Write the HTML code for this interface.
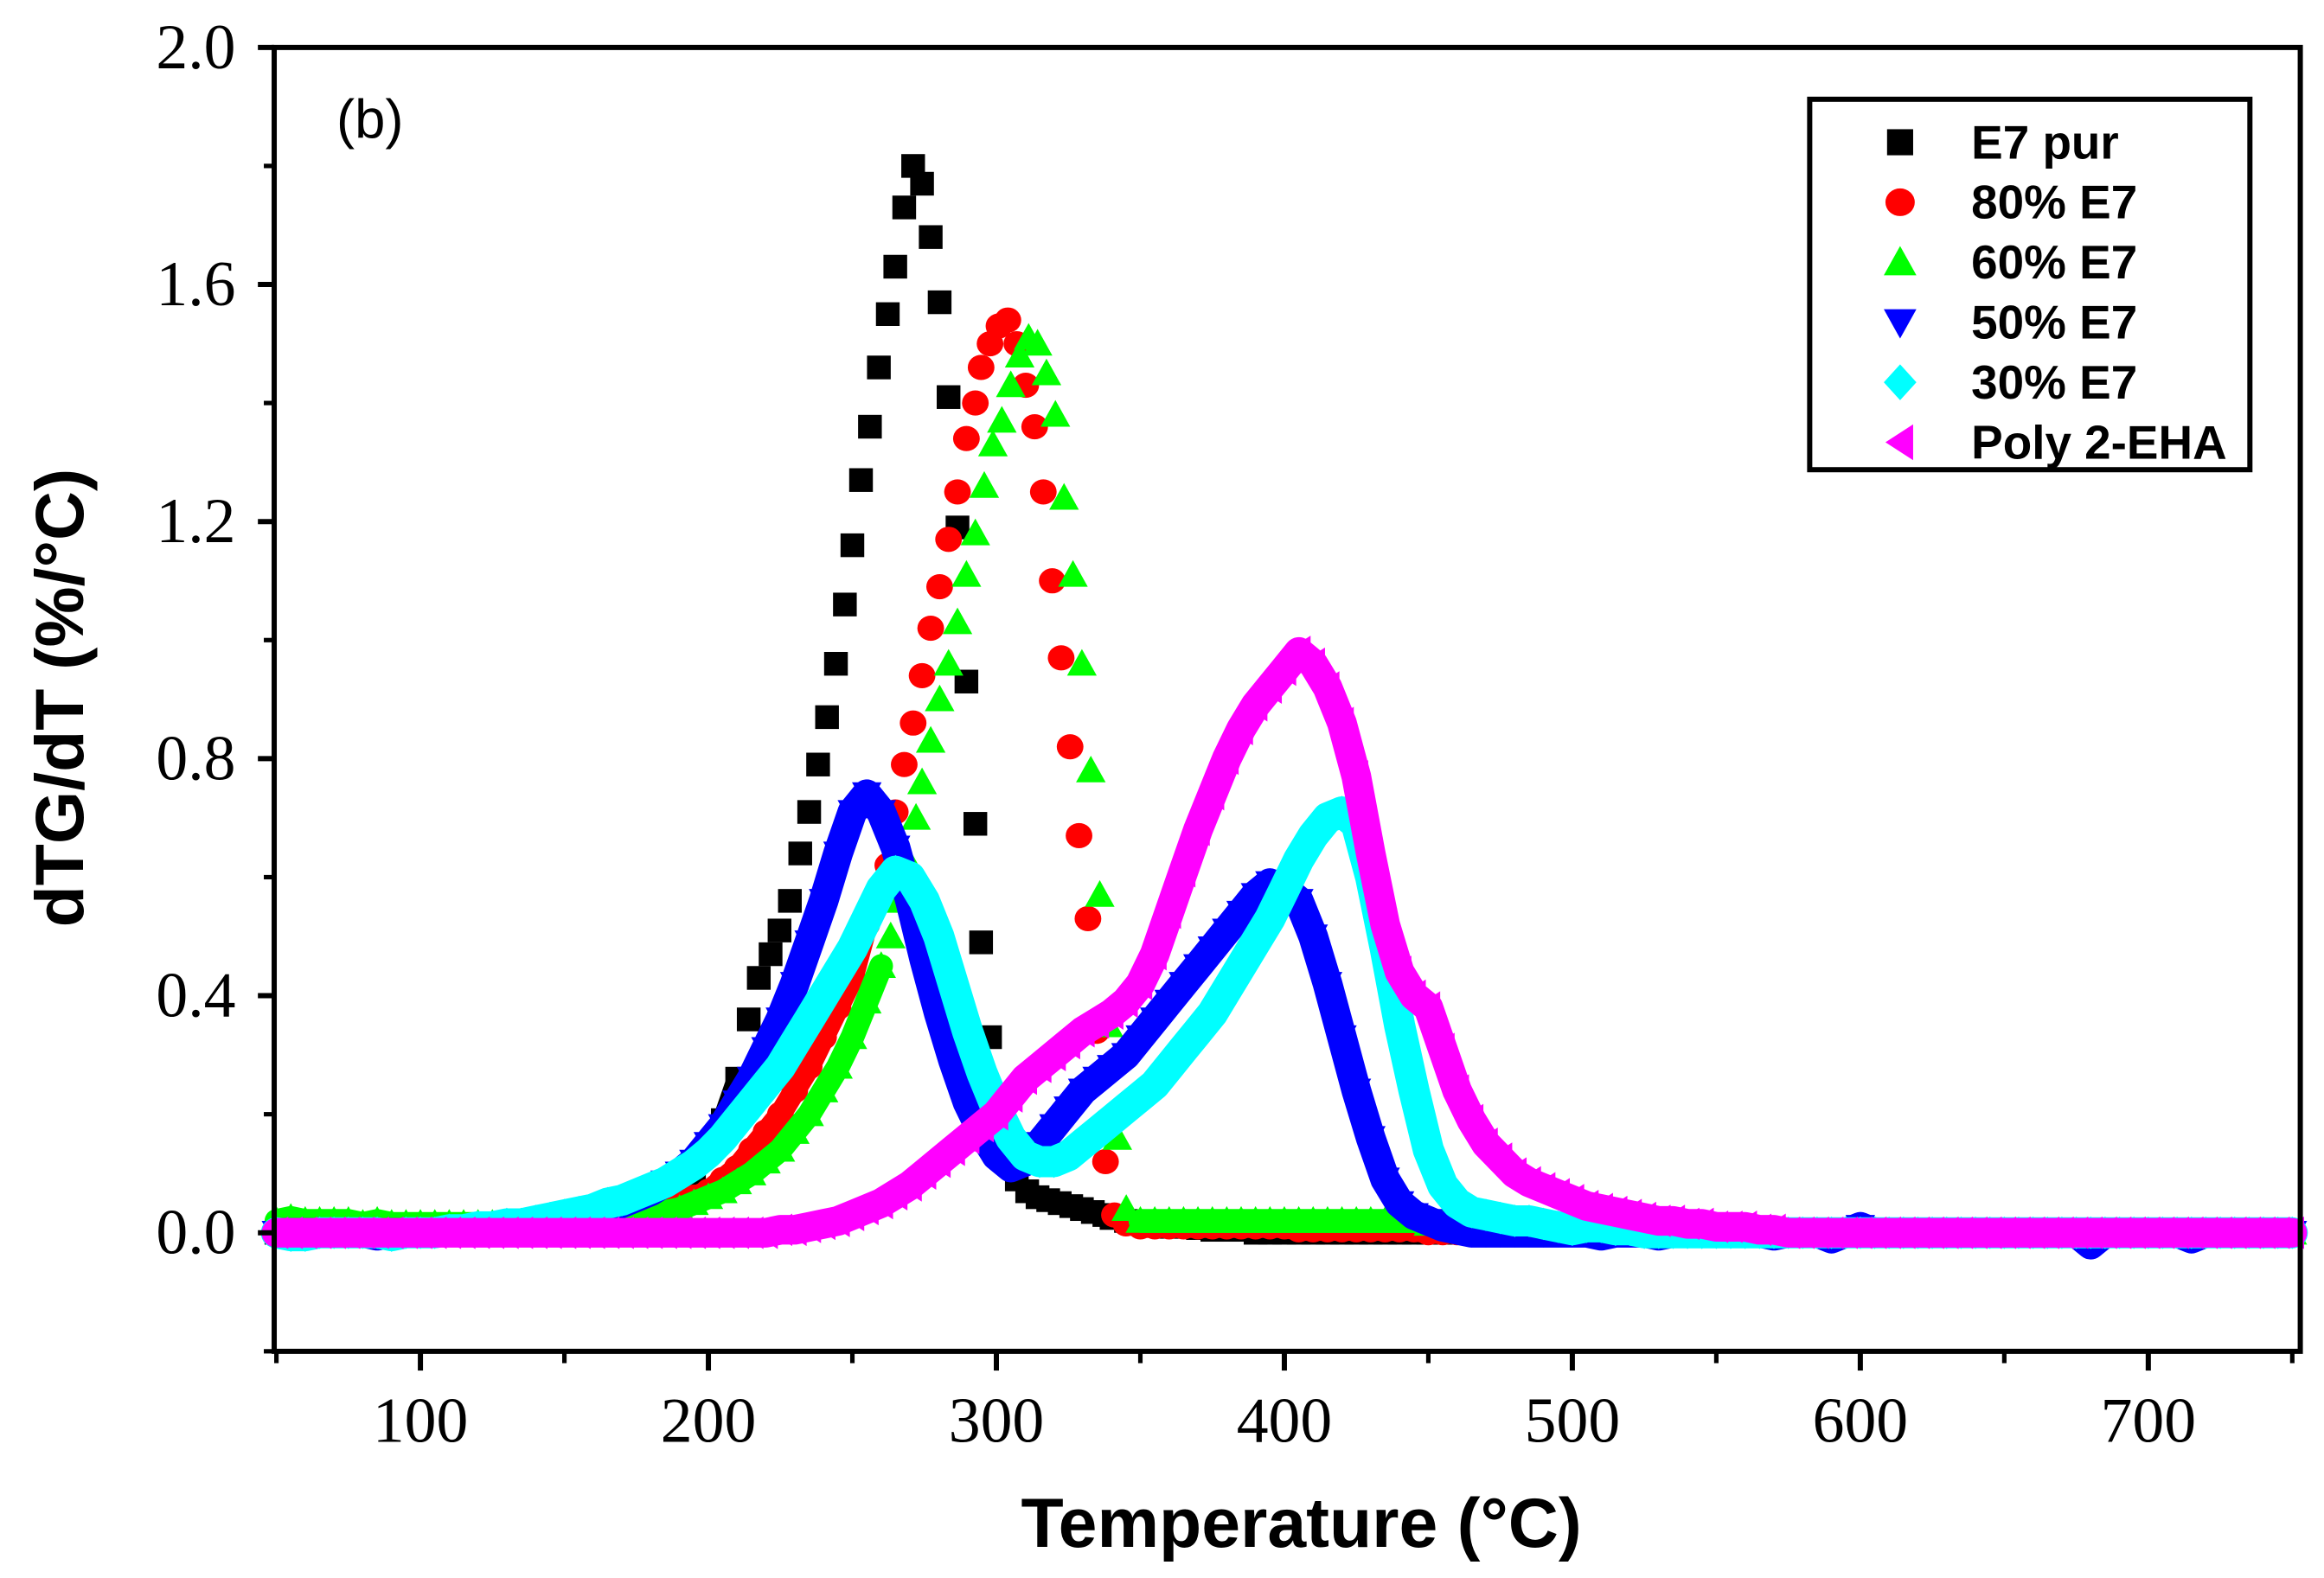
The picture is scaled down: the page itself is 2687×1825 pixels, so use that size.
<!DOCTYPE html>
<html><head><meta charset="utf-8"><title>dTG/dT chart</title>
<style>html,body{margin:0;padding:0;background:#fff;}svg{display:block;}</style></head>
<body>
<svg id="chart" width="2687" height="1825" viewBox="0 0 1568 1065" preserveAspectRatio="none" xmlns="http://www.w3.org/2000/svg">
<rect x="0" y="0" width="1568" height="1065" fill="#fff"/>
<g id="marks"></g>
<g id="axes"></g>
<text x="227" y="93" font-family="Liberation Sans, sans-serif" font-size="37">(b)</text>
<text transform="translate(56,471) rotate(-90)" text-anchor="middle" font-family="Liberation Sans, sans-serif" font-weight="bold" font-size="46">dTG/dT (%/°C)</text>
<text x="878" y="1044" text-anchor="middle" font-family="Liberation Sans, sans-serif" font-weight="bold" font-size="47">Temperature (°C)</text>
<g id="legend">
<rect x="1221" y="67" width="297" height="250" fill="#fff" stroke="#000" stroke-width="3.5"/>
</g>
</svg>
<script>
const temps=[50,55,60,65,70,75,80,85,90,95,100,105,110,115,120,125,130,135,140,145,150,155,160,165,170,175,180,185,190,195,200,205,210,215,220,225,230,235,240,245,250,255,260,265,270,275,280,285,290,295,300,305,310,315,320,325,330,335,340,345,350,355,360,365,370,375,380,385,390,395,400,405,410,415,420,425,430,435,440,445,450,455,460,465,470,475,480,485,490,495,500,505,510,515,520,525,530,535,540,545,550,555,560,565,570,575,580,585,590,595,600,605,610,615,620,625,630,635,640,645,650,655,660,665,670,675,680,685,690,695,700,705,710,715,720,725,730,735,740,745,750];
const _=null;
const e7Grid=[0,0,0,0,0,0,0,0,0,0, 0,0,0,0,0,0,0.005,0.005,0.005,0.01, 0.01,0.015,0.02,0.025,0.03,0.04,0.05,0.06,0.08,0.1, 0.14,0.19,0.26,_,_,_,_,_,_,_, _,_,_,_,_,_,_,_,_,_, _,_,_,_,_,_,_,_,0.025,0.02, 0.015,0.012,0.01,0.01,0.008,0.005,0.005,0.005,0,0, 0,0,0,0,0,0,0,0,0,0, 0,0,0,0,0,0,0,0,0,0, 0,0,0,0,0,0,0,0,0,0, 0,0,0,0,0,0,0,0,0,0, 0,0,0,0,0,0,0,0,0,0, 0,0,0,0,0,0,0,0,0,0, 0,0,0,0,0,0,0,0,0,0, 0];
const e7PeakT=[214,217.5,221.6,224.7,228.3,231.9,235,238.1,241.2,244.3,247.4,250,253,256.1,259.2,262.3,264.9,268,271.1,274.2,277.2,280.3,283.4,286.5,289.6,292.7,294.7,297.8,300.9,304,307.1,310.7,314.3,318,322,326,329.7,333.5,337.5];
const e7PeakV=[0.36,0.43,0.47,0.51,0.56,0.64,0.71,0.79,0.87,0.96,1.06,1.16,1.27,1.36,1.46,1.55,1.63,1.73,1.80,1.77,1.68,1.57,1.41,1.19,0.93,0.69,0.49,0.33,0.2,0.12,0.09,0.07,0.06,0.055,0.05,0.045,0.04,0.035,0.03];
const e80Grid=[0,0,0,0,0,0,0,0,0,0, 0,0,0,0,0,0,0,0,0,0, 0.005,0.01,0.01,0.015,0.02,0.025,0.03,0.04,0.05,0.06, 0.07,0.09,0.11,0.14,0.17,0.2,0.24,0.28,0.33,0.38, 0.43,0.52,_,_,_,_,_,_,_,_, _,_,_,_,_,_,_,_,_,_, 0.01,0.01,0.01,0.01,0.01,0.01,0.01,0.01,0.01,0.01, 0.01,0.005,0.005,0.005,0.005,0.005,0.005,0.005,0.005,0.005, 0,0,0,0,0,0,0,0,0,0, 0,0,0,0,0,0,0,0,0,0, 0,0,0,0,0,0,0,0,0,0, 0,0,0,0,0,0,0,0,0,0, 0,0,0,0,0,0,0,0,0,0, 0,0,0,0,0,0,0,0,0,0, 0];
const e80PeakT=[262.3,264.9,268,271.1,274.2,277.2,280.3,283.4,286.5,289.6,292.7,294.7,297.8,300.9,304,307.1,310.2,313.3,316.3,319.4,322.5,325.6,328.7,331.8,334.8,337.9,341,345];
const e80PeakV=[0.62,0.71,0.79,0.86,0.94,1.02,1.09,1.17,1.25,1.34,1.40,1.46,1.50,1.53,1.54,1.50,1.43,1.36,1.25,1.10,0.97,0.82,0.67,0.53,0.34,0.12,0.03,0.015];
const e60Grid=[0.02,0.025,0.02,0.02,0.02,0.02,0.015,0.02,0.015,0.015, 0.015,0.015,0.015,0.015,0.015,0.015,0.015,0.015,0.015,0.015, 0.015,0.015,0.02,0.02,0.025,0.025,0.03,0.035,0.04,0.05, 0.06,0.07,0.085,0.1,0.12,0.14,0.17,0.2,0.24,0.28, 0.33,0.39,0.45,_,_,_,_,_,_,_, _,_,_,_,_,_,_,_,_,_, 0.02,0.02,0.02,0.02,0.02,0.02,0.02,0.02,0.02,0.02, 0.02,0.02,0.02,0.02,0.02,0.02,0.02,0.02,0.02,0.02, 0.015,0.015,0.01,0.01,0.005,0,0,0,0,0, 0,0,0,0,0,0,0,0,0,0, 0,0,0,0,0,0,0,0,0,0, 0,0,0,0,0,0,0,0,0,0, 0,0,0,0,0,0,0,0,0,0, 0,0,0,0,0,0,0,0,0,0, 0];
const e60PeakT=[263.3,265.9,269,272.1,274.2,277.2,280.3,283.4,286.5,289.6,292.7,295.8,298.8,301.9,305,308.1,311.2,314.3,317.4,320.5,323.5,326.6,329.7,332.8,335.9,339,342,345.1];
const e60PeakV=[0.50,0.56,0.63,0.70,0.76,0.83,0.90,0.96,1.03,1.11,1.18,1.26,1.33,1.37,1.43,1.48,1.51,1.50,1.45,1.38,1.24,1.11,0.96,0.78,0.57,0.35,0.16,0.04];
const e50Grid=[0,0,0,0,0,0,0,-0.005,0,0, 0,0,0.005,0.005,0.01,0.01,0.01,0.015,0.015,0.02, 0.02,0.03,0.035,0.04,0.05,0.06,0.07,0.085,0.1,0.12, 0.15,0.18,0.22,0.26,0.31,0.36,0.42,0.49,0.56,0.64, 0.71,0.74,0.71,0.65,0.56,0.46,0.37,0.29,0.22,0.17, 0.13,0.11,0.12,0.15,0.18,0.21,0.24,0.26,0.28,0.30, 0.33,0.36,0.39,0.42,0.45,0.48,0.51,0.54,0.57,0.59, 0.58,0.56,0.50,0.42,0.33,0.24,0.16,0.09,0.05,0.03, 0.02,0.01,0.005,0,0,0,0,0,0,0, 0,0,-0.005,0,0,0,-0.005,0,0,0, 0,0,0,0,-0.005,0,0,0,-0.01,0, 0.01,0,0,0,0,0,0,0,0,0, 0,0,0,0,0,0,-0.02,0,0,0, 0,0,0,-0.01,0,0,0,0,0,0, 0];
const e30Grid=[0,-0.005,-0.005,0,0,0,0,0,-0.005,0, 0,0,0.005,0.005,0.01,0.01,0.015,0.015,0.02,0.025, 0.03,0.035,0.04,0.05,0.055,0.065,0.075,0.085,0.1,0.115, 0.135,0.16,0.19,0.22,0.25,0.28,0.32,0.36,0.40,0.44, 0.48,0.53,0.58,0.61,0.60,0.56,0.50,0.42,0.34,0.27, 0.21,0.16,0.13,0.12,0.12,0.13,0.15,0.17,0.19,0.21, 0.23,0.25,0.28,0.31,0.34,0.37,0.41,0.45,0.49,0.53, 0.58,0.63,0.67,0.70,0.71,0.69,0.60,0.48,0.35,0.24, 0.14,0.08,0.05,0.035,0.03,0.025,0.02,0.02,0.015,0.01, 0.005,0.01,0.01,0.005,0.005,0,0,0,0,0, 0,0,0,0,0,0,0,0,0,0, 0,0,0,0,0,0,0,0,0,0, 0,0,0,0,0,0,0,0,0,0, 0,0,0,0,0,0,0,0,0,0, 0];
const ehaGrid=[0,0,0,0,0,0,0,0,0,0, 0,0,0,0,0,0,0,0,0,0, 0,0,0,0,0,0,0,0,0,0, 0,0,0,0,0,0.005,0.005,0.01,0.015,0.02, 0.03,0.04,0.05,0.065,0.08,0.10,0.12,0.14,0.16,0.18, 0.20,0.23,0.26,0.28,0.30,0.32,0.34,0.355,0.37,0.39, 0.42,0.47,0.54,0.61,0.68,0.74,0.80,0.85,0.89,0.92, 0.95,0.98,0.96,0.92,0.86,0.77,0.64,0.52,0.44,0.40, 0.38,0.31,0.24,0.19,0.15,0.125,0.10,0.085,0.075,0.065, 0.055,0.045,0.04,0.035,0.03,0.025,0.02,0.02,0.015,0.015, 0.01,0.01,0.01,0.005,0.005,0,0,0,0,0, 0,0,0,0,0,0,0,0,0,0, 0,0,0,0,0,0,0,0,0,0, 0,0,0,0,0,0,0,0,0,0, 0];
const xTicks=[100,200,300,400,500,600,700];
const xMinor=[50,150,250,350,450,550,650,750];
const yTicks=[0.0,0.4,0.8,1.2,1.6,2.0];
const yMinor=[-0.2,0.2,0.6,1.0,1.4,1.8];
const legendLabels=["E7 pur","80% E7","60% E7","50% E7","30% E7","Poly 2-EHA"];

const NS="http://www.w3.org/2000/svg";
const X0=186.5, XS=1.943, Y0=832, YS=400;
function xs(t){return X0+(t-50)*XS;}
function ys(v){return Y0-v*YS;}
function el(tag,attrs,parent){const e=document.createElementNS(NS,tag);for(const k in attrs)e.setAttribute(k,attrs[k]);parent.appendChild(e);return e;}
function marker(shape,color,cx,cy,parent,k){
  k=k||1;
  let e;
  if(shape==='square')e=el('rect',{x:cx-8*k,y:cy-8*k,width:16*k,height:16*k,fill:color},parent);
  else if(shape==='circle')e=el('ellipse',{cx:cx,cy:cy,rx:9*k,ry:8.5*k,fill:color},parent);
  else if(shape==='up')e=el('polygon',{points:`${cx-10*k},${cy+8*k} ${cx+10*k},${cy+8*k} ${cx},${cy-10*k}`,fill:color},parent);
  else if(shape==='down')e=el('polygon',{points:`${cx-10*k},${cy-8*k} ${cx+10*k},${cy-8*k} ${cx},${cy+10*k}`,fill:color},parent);
  else if(shape==='diamond')e=el('polygon',{points:`${cx},${cy-11*k} ${cx+10*k},${cy} ${cx},${cy+11*k} ${cx-10*k},${cy}`,fill:color},parent);
  else e=el('polygon',{points:`${cx-9*k},${cy} ${cx+8*k},${cy-11*k} ${cx+8*k},${cy+11*k}`,fill:color},parent);
  return e;
}
const marks=document.getElementById('marks');
const series=[
  {name:'e7-pur',shape:'square',color:'#000000',grid:e7Grid,pt:e7PeakT,pv:e7PeakV,band:14},
  {name:'80-e7',shape:'circle',color:'#ff0000',grid:e80Grid,pt:e80PeakT,pv:e80PeakV,band:15},
  {name:'60-e7',shape:'up',color:'#00ff00',grid:e60Grid,pt:e60PeakT,pv:e60PeakV,band:16},
  {name:'50-e7',shape:'down',color:'#0000ff',grid:e50Grid,pt:[],pv:[],band:20},
  {name:'30-e7',shape:'diamond',color:'#00ffff',grid:e30Grid,pt:[],pv:[],band:21},
  {name:'poly-2-eha',shape:'left',color:'#ff00ff',grid:ehaGrid,pt:[],pv:[],band:20}
];
series.forEach(s=>{
  const g=el('g',{},marks);
  
  
  let seg=[];
  const flush=()=>{
    if(seg.length>1){
      const p=el('polyline',{points:seg.join(' '),fill:'none',stroke:s.color,'stroke-width':s.band,'stroke-linejoin':'round','stroke-linecap':'round'},g);
      
      
    }
    seg=[];
  };
  s.grid.forEach((v,i)=>{
    if(v===null){flush();return;}
    seg.push(xs(temps[i]).toFixed(1)+','+ys(v).toFixed(1));
  });
  flush();
  s.grid.forEach((v,i)=>{
    if(v===null)return;
    const m=marker(s.shape,s.color,xs(temps[i]),ys(v),g);
    
    
  });
  s.pt.forEach((t,i)=>{
    const m=marker(s.shape,s.color,xs(t),ys(s.pv[i]),g);
    
    
  });
});
const axes=document.getElementById('axes');
const frame=el('path',{d:'M185,912 V32 H1552 V912 Z',fill:'none',stroke:'#000','stroke-width':3.5},axes);


xTicks.forEach(t=>{
  const l=el('line',{x1:xs(t),x2:xs(t),y1:912,y2:925,stroke:'#000','stroke-width':3.5},axes);
  
  
  const tx=el('text',{x:xs(t),y:973,'text-anchor':'middle','font-family':'Liberation Serif, serif','font-size':43},axes);
  tx.textContent=String(t);
  
  
});
xMinor.forEach(t=>{
  const l=el('line',{x1:xs(t),x2:xs(t),y1:912,y2:920,stroke:'#000','stroke-width':3},axes);
  
  
});
yTicks.forEach(v=>{
  const l=el('line',{x1:174,x2:185,y1:ys(v),y2:ys(v),stroke:'#000','stroke-width':3.5},axes);
  
  
  const tx=el('text',{x:159,y:ys(v)+14,'text-anchor':'end','font-family':'Liberation Serif, serif','font-size':43},axes);
  tx.textContent=v.toFixed(1);
  
  
});
yMinor.forEach(v=>{
  const l=el('line',{x1:178,x2:185,y1:ys(v),y2:ys(v),stroke:'#000','stroke-width':3},axes);
  
  
});
const legend=document.getElementById('legend');
const shapes=['square','circle','up','down','diamond','left'];
const colors=['#000000','#ff0000','#00ff00','#0000ff','#00ffff','#ff00ff'];
legendLabels.forEach((lab,i)=>{
  const cy=96+i*40.5;
  const g=el('g',{},legend);
  
  
  const m=marker(shapes[i],colors[i],1282,cy,g,1.1);
  
  
  const tx=el('text',{x:1330,y:cy+11,'font-family':'Liberation Sans, sans-serif','font-weight':'bold','font-size':32},g);
  tx.textContent=lab;
  
  
});
</script>
</body></html>
